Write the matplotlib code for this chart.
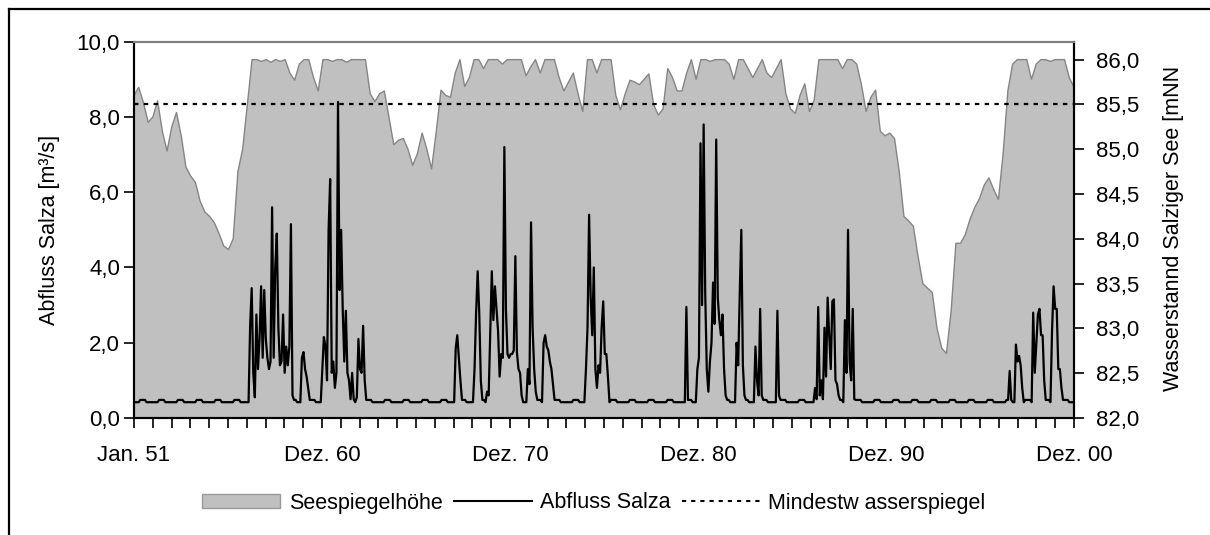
import numpy as np
import matplotlib
matplotlib.use("Agg")
import matplotlib.pyplot as plt
from matplotlib.lines import Line2D
from matplotlib.patches import Patch
from matplotlib.ticker import FuncFormatter, FixedLocator

plt.rcParams['font.family'] = ['Liberation Sans', 'DejaVu Sans']

# ---------------- data ----------------
# lake level (mNN), quarterly values, one row per year 1951..2000
lake_1951_2000 = [
    [85.60, 85.69, 85.52, 85.30],  # 1951
    [85.36, 85.54, 85.20, 84.98],  # 1952
    [85.25, 85.41, 85.15, 84.80],  # 1953
    [84.70, 84.63, 84.42, 84.30],  # 1954
    [84.25, 84.18, 84.06, 83.92],  # 1955
    [83.88, 84.00, 84.75, 85.00],  # 1956
    [85.50, 86.00, 86.00, 85.98],  # 1957
    [86.00, 85.97, 86.00, 85.98],  # 1958
    [86.00, 85.85, 85.77, 85.95],  # 1959
    [86.00, 86.00, 85.80, 85.65],  # 1960
    [86.00, 86.00, 85.98, 86.00],  # 1961
    [86.00, 85.97, 86.00, 86.00],  # 1962
    [86.00, 86.00, 85.62, 85.53],  # 1963
    [85.62, 85.65, 85.35, 85.05],  # 1964
    [85.10, 85.12, 85.00, 84.82],  # 1965
    [84.95, 85.18, 85.00, 84.78],  # 1966
    [85.20, 85.66, 85.60, 85.58],  # 1967
    [85.85, 86.00, 85.70, 85.80],  # 1968
    [86.00, 86.00, 85.90, 86.00],  # 1969
    [86.00, 86.00, 85.95, 86.00],  # 1970
    [86.00, 86.00, 86.00, 85.82],  # 1971
    [85.92, 86.00, 85.85, 86.00],  # 1972
    [86.00, 86.00, 85.80, 85.65],  # 1973
    [85.75, 85.85, 85.62, 85.42],  # 1974
    [86.00, 86.00, 85.85, 86.00],  # 1975
    [86.00, 86.00, 85.60, 85.44],  # 1976
    [85.62, 85.77, 85.75, 85.72],  # 1977
    [85.78, 85.84, 85.50, 85.38],  # 1978
    [85.45, 85.90, 85.80, 85.65],  # 1979
    [85.65, 85.85, 86.00, 85.78],  # 1980
    [86.00, 86.00, 85.98, 86.00],  # 1981
    [86.00, 86.00, 85.95, 85.78],  # 1982
    [86.00, 86.00, 85.90, 85.80],  # 1983
    [85.90, 86.00, 85.85, 85.80],  # 1984
    [85.90, 86.00, 85.62, 85.45],  # 1985
    [85.40, 85.60, 85.73, 85.42],  # 1986
    [85.55, 86.00, 86.00, 86.00],  # 1987
    [86.00, 86.00, 85.90, 86.00],  # 1988
    [86.00, 85.95, 85.72, 85.42],  # 1989
    [85.58, 85.66, 85.20, 85.15],  # 1990
    [85.18, 85.12, 84.75, 84.25],  # 1991
    [84.20, 84.14, 83.80, 83.50],  # 1992
    [83.45, 83.40, 83.00, 82.78],  # 1993
    [82.72, 83.20, 83.95, 83.95],  # 1994
    [84.05, 84.22, 84.35, 84.45],  # 1995
    [84.60, 84.68, 84.55, 84.44],  # 1996
    [84.95, 85.65, 85.95, 86.00],  # 1997
    [86.00, 86.00, 85.78, 85.95],  # 1998
    [86.00, 86.00, 85.98, 86.00],  # 1999
    [86.00, 86.00, 85.80, 85.69],  # 2000
]

# Salza discharge (m3/s): monthly base pattern (Jan..Dec) plus overflow months
base_month_pattern = [0.42, 0.42, 0.42, 0.42, 0.48, 0.48, 0.48, 0.48, 0.42, 0.42, 0.42, 0.42]

# month index (0 = Jan 1951) of overflow months and their discharge
event_months = [
    74, 75, 76, 77, 78, 79, 80, 81, 82, 83, 84, 85, 86, 87, 88, 89, 90, 91, 92, 93, 94, 95, 96, 97, 98, 99, 100, 101,
    107, 108, 109, 110, 111,
    120, 121, 122, 123, 124, 125, 126, 127, 128, 129, 130, 131, 132, 133, 134, 135, 136, 137, 138, 139, 140, 142, 143, 144, 145, 146, 147,
    205, 206, 207, 208,
    217, 218, 219, 220, 221,
    225, 226, 227, 228, 229, 230, 231, 232, 233, 234, 235, 236, 237, 238, 239, 240, 241, 242, 243, 244, 245, 246, 247,
    251, 252, 253, 254, 255, 256,
    261, 262, 263, 264, 265, 266, 267,
    288, 289, 290, 291, 292, 293, 294, 295, 296, 297, 298, 299, 300, 301, 302,
    352,
    359, 360, 361, 362, 363, 364, 365, 366, 367, 368, 369, 370, 371, 372, 373, 374, 375, 376, 377,
    384, 385, 386, 387, 388, 389,
    396, 397, 398, 399, 400,
    410, 411,
    434, 435, 436, 437, 438, 439, 440, 441, 442, 443, 444, 445, 446, 447, 448, 449,
    453, 454, 455, 456, 457, 458, 459,
    558,
    562, 563, 564, 565, 566,
    573, 574, 575, 576, 577, 578, 579, 580,
    585, 586, 587, 588, 589, 590, 591,
]
event_values = [
    2.45, 3.45, 1.2, 0.55, 2.75, 1.3, 2.1, 3.5, 1.6, 3.4, 2.1, 1.6, 1.3, 1.5, 5.6, 1.6, 4.0, 4.9, 2.4, 1.4, 1.5, 2.75, 1.2, 1.9, 1.4, 1.9, 5.15, 0.6,
    1.6, 1.75, 1.3, 1.1, 0.8,
    1.3, 2.15, 1.9, 1.0, 5.0, 6.35, 1.2, 1.5, 0.8, 1.2, 8.4, 3.4, 5.0, 2.9, 1.5, 2.85, 1.2, 1.0, 0.5, 1.2, 0.5, 0.55, 2.1, 1.3, 1.2, 2.45, 1.0,
    1.85, 2.2, 1.6, 1.0,
    1.3, 2.8, 3.9, 2.8, 1.0,
    0.7, 0.6, 2.3, 3.9, 2.6, 3.5, 2.9, 2.3, 1.1, 1.7, 1.6, 7.2, 2.9, 1.7, 1.6, 1.7, 1.7, 1.8, 4.3, 1.75, 1.3, 1.2, 0.6,
    1.3, 0.9, 5.2, 2.4, 1.3, 0.7,
    2.0, 2.2, 1.9, 1.8, 1.5, 1.3, 0.9,
    1.3, 2.4, 5.4, 3.2, 2.2, 4.0, 1.3, 0.8, 1.4, 1.2, 2.4, 3.1, 1.7, 1.7, 1.1,
    2.95,
    1.3, 1.6, 7.3, 3.0, 7.8, 3.3, 1.3, 0.7, 1.5, 2.0, 3.6, 2.5, 7.4, 3.2, 2.6, 2.2, 2.75, 1.3, 0.6,
    2.0, 1.4, 3.3, 5.0, 1.4, 0.6,
    1.9, 1.0, 0.6, 2.9, 0.6,
    2.85, 0.6,
    0.8, 0.5, 2.95, 0.6, 1.0, 0.5, 2.4, 1.1, 3.2, 2.2, 1.3, 3.1, 3.15, 1.0, 0.9, 0.6,
    2.6, 1.2, 5.0, 1.5, 1.0, 2.9, 0.5,
    1.25,
    1.95, 1.5, 1.65, 1.4, 0.8,
    2.8, 1.2, 2.0, 2.75, 2.9, 2.2, 2.2, 1.0,
    2.3, 3.5, 2.9, 2.9, 1.3, 1.3, 0.8,
]

min_level = 85.5  # Mindestwasserspiegel (mNN)

xtick_labels = ["Jan. 51", "Dez. 60", "Dez. 70", "Dez. 80", "Dez. 90", "Dez. 00"]
n_years = 50

# ---------------- build series ----------------
n_months = n_years * 12
lake = np.array(lake_1951_2000).ravel()
x_lake = np.linspace(0, n_months - 1, lake.size)

discharge = np.array(base_month_pattern * n_years, dtype=float)
discharge[np.array(event_months)] = event_values
x_month = np.arange(n_months)

# ---------------- figure ----------------
W, H = 1210, 535
fig = plt.figure(figsize=(W / 100, H / 100), dpi=100)
left, right, top, bottom = 134, 1074, 41.7, 418
ax = fig.add_axes([left / W, 1 - bottom / H, (right - left) / W, (bottom - top) / H])
ax2 = ax.twinx()
ax.set_zorder(ax2.get_zorder() + 1)
ax.patch.set_visible(False)

FS_TICK = 16
FS = 15.5
DOT = (0, (2, 2.4))

# lake (right axis)
ax2.fill_between(x_lake, 82.0, lake, facecolor='#c0c0c0', edgecolor='none', zorder=1)
ax2.plot(x_lake, lake, color='#858585', lw=1.0, zorder=2)
ax2.axhline(min_level, color='black', lw=1.6, linestyle=DOT, zorder=3)
ax2.set_ylim(82.0, 86.2)
ax2.set_yticks(np.arange(82.0, 86.01, 0.5))

# discharge (left axis)
ax.plot(x_month, discharge, color='black', lw=1.6, zorder=4)
ax.set_ylim(0, 10)
ax.set_yticks(np.arange(0, 10.01, 2))
ax.set_xlim(0, n_months - 1)

comma = FuncFormatter(lambda v, p: f"{v:.1f}".replace('.', ','))
ax.yaxis.set_major_formatter(comma)
ax2.yaxis.set_major_formatter(comma)

year_ticks = np.linspace(0, n_months - 1, n_years + 1)
ax.xaxis.set_major_locator(FixedLocator(year_ticks[::10]))
ax.set_xticklabels(xtick_labels)
ax.xaxis.set_minor_locator(FixedLocator(year_ticks))

for a in (ax, ax2):
    a.tick_params(axis='both', which='both', direction='out', length=7.5, width=1.2,
                  color='black', labelsize=FS_TICK)
ax.tick_params(axis='y', pad=2.5)
ax2.tick_params(axis='y', pad=8)
ax.tick_params(axis='x', which='major', pad=12)

for a in (ax, ax2):
    a.spines['top'].set_color('#808080')
    a.spines['top'].set_linewidth(1.5)
    for s in ('left', 'right', 'bottom'):
        a.spines[s].set_color('black')
        a.spines[s].set_linewidth(1.5)

ax.set_ylabel("Abfluss Salza [m³/s]", fontsize=FS, rotation=90, ha='center', va='center',
              rotation_mode='default')
ax.yaxis.set_label_coords((50 - left) / (right - left), 0.5)
ax2.set_ylabel("Wasserstannd Salziger See [mNN", fontsize=FS, rotation=90, ha='center', va='center',
               rotation_mode='default')
ax2.yaxis.set_label_coords((1174 - left) / (right - left), (bottom - 228) / (bottom - top))

handles = [
    Patch(facecolor='#c0c0c0', edgecolor='#999999', lw=1.0),
    Line2D([], [], color='black', lw=1.5),
    Line2D([], [], color='black', lw=1.5, linestyle=DOT),
]
labels = ["Seespiegelhöhe", "Abfluss Salza", "Mindestw asserspiegel"]
fig.legend(handles, labels, loc='center', bbox_to_anchor=(594 / W, 1 - 503 / H), ncol=3,
           frameon=False, fontsize=FS, handlelength=3.63, handleheight=0.6,
           handletextpad=0.4, columnspacing=0.5, borderpad=0, borderaxespad=0)

# outer chart frame (visible left and top edges)
fig.add_artist(Line2D([9 / W, 9 / W], [0, 1 - 8.5 / H], transform=fig.transFigure, color='black', lw=1.6))
fig.add_artist(Line2D([9 / W, 1], [1 - 8.5 / H, 1 - 8.5 / H], transform=fig.transFigure, color='black', lw=1.6))

fig.savefig("out.png", dpi=100, facecolor='white')
